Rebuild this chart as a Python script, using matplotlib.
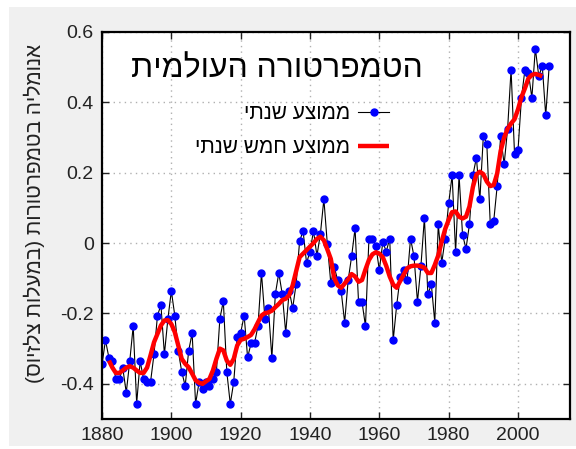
import matplotlib
matplotlib.use("Agg")
import matplotlib.pyplot as plt
from matplotlib.patches import Rectangle

plt.rcParams['font.family'] = ['Liberation Sans', 'DejaVu Sans']

# annual mean anomaly, 1880-2009 (deg C)
years = list(range(1880, 2010))
annual = [
    -0.345, -0.276, -0.326, -0.336, -0.386, -0.386, -0.356, -0.425, -0.336, -0.236,
    -0.456, -0.336, -0.386, -0.395, -0.395, -0.316, -0.206, -0.176, -0.316, -0.216,
    -0.136, -0.206, -0.306, -0.366, -0.406, -0.306, -0.256, -0.457, -0.395, -0.415,
    -0.395, -0.405, -0.386, -0.366, -0.215, -0.165, -0.366, -0.457, -0.395, -0.266,
    -0.255, -0.206, -0.325, -0.285, -0.285, -0.235, -0.085, -0.215, -0.185, -0.326,
    -0.145, -0.085, -0.145, -0.255, -0.135, -0.185, -0.116, 0.005, 0.035, -0.056,
    -0.025, 0.035, -0.036, 0.026, 0.125, -0.003, -0.114, -0.068, -0.106, -0.137,
    -0.226, -0.106, -0.038, 0.042, -0.167, -0.167, -0.236, 0.013, 0.013, -0.008,
    -0.077, 0.003, -0.024, 0.013, -0.276, -0.177, -0.097, -0.077, -0.106, 0.013,
    -0.038, -0.167, -0.065, 0.072, -0.146, -0.117, -0.226, 0.053, -0.056, 0.013,
    0.113, 0.193, -0.026, 0.193, 0.024, -0.016, 0.054, 0.193, 0.243, 0.124,
    0.304, 0.283, 0.054, 0.063, 0.163, 0.304, 0.224, 0.324, 0.493, 0.253,
    0.264, 0.413, 0.493, 0.484, 0.413, 0.553, 0.474, 0.504, 0.363, 0.504,
]

# five-year mean, 1882-2007
years5 = list(range(1882, 2008))
mean5 = [
    -0.334, -0.354, -0.369, -0.369, -0.362, -0.354, -0.350, -0.354,
    -0.362, -0.369, -0.369, -0.354, -0.319, -0.282, -0.258, -0.234, -0.220, -0.219,
    -0.230, -0.253, -0.291, -0.329, -0.343, -0.353, -0.371, -0.390, -0.397, -0.400,
    -0.393, -0.386, -0.362, -0.329, -0.300, -0.305, -0.334, -0.346, -0.329, -0.291,
    -0.275, -0.272, -0.267, -0.261, -0.245, -0.225, -0.206, -0.199, -0.197, -0.192,
    -0.182, -0.173, -0.162, -0.158, -0.148, -0.120, -0.080, -0.040, -0.030, -0.020,
    -0.010, 0.000, 0.012, 0.018, 0.008, -0.018, -0.045, -0.100, -0.120, -0.127,
    -0.115, -0.103, -0.088, -0.095, -0.110, -0.105, -0.075, -0.048, -0.032, -0.026,
    -0.030, -0.040, -0.065, -0.095, -0.118, -0.127, -0.108, -0.090, -0.072, -0.066,
    -0.064, -0.064, -0.066, -0.070, -0.085, -0.085, -0.062, -0.035, 0.005, 0.040,
    0.066, 0.088, 0.090, 0.075, 0.070, 0.075, 0.104, 0.160, 0.195, 0.203,
    0.196, 0.175, 0.162, 0.165, 0.198, 0.262, 0.300, 0.325, 0.340, 0.352,
    0.380, 0.415, 0.440, 0.468, 0.478, 0.481, 0.478, 0.474,
]

title = "הטמפרטורה העולמית"
ylabel = "אנומליה בטמפרטורות (במעלות צלזיוס)"
label_annual = "ממוצע שנתי"
label_mean5 = "ממוצע חמש שנתי"


def rtl(s):
    # no bidi support in matplotlib: lay the string out right-to-left by hand
    swap = {"(": ")", ")": "("}
    return "".join(swap.get(c, c) for c in reversed(s))


fig = plt.figure(figsize=(5.76, 4.49), dpi=100, facecolor='white')
fig.add_artist(Rectangle((9 / 576, 3 / 449), 1, (449 - 10) / 449,
                         transform=fig.transFigure, facecolor='#f0f0f0',
                         edgecolor='none', zorder=-10))
ax = fig.add_axes([102 / 576, 30 / 449, 468 / 576, 387 / 449])

ax.plot(years, annual, color='black', lw=0.8, marker='o', markersize=5,
        markerfacecolor='blue', markeredgecolor='blue', label=rtl(label_annual))
ax.plot(years5, mean5, color='red', lw=3.2, label=rtl(label_mean5),
        solid_capstyle='butt')

ax.set_xlim(1880, 2015)
ax.set_ylim(-0.5, 0.6)
ax.set_xticks(range(1880, 2001, 20))
ax.set_yticks([-0.4, -0.2, 0, 0.2, 0.4, 0.6])
ax.set_yticklabels(['-0.4', '-0.2', '0', '0.2', '0.4', '0.6'])
ax.tick_params(direction='in', top=True, right=True, length=5, width=1,
               labelsize=14, colors='#222222', pad=6)
for s in ax.spines.values():
    s.set_linewidth(1.6)
ax.grid(True, linestyle=(0, (1, 3)), color='#b0b0b0', lw=1)

fig.text(34 / 576, 1 - 213 / 449, rtl(ylabel), rotation=90, fontsize=15,
         ha='center', va='center', color='#222222')
ax.text(0.373, 0.905, rtl(title), transform=ax.transAxes, fontsize=23,
        ha='center', va='center')

ax.legend(loc='upper right', bbox_to_anchor=(0.614, 0.813), frameon=False,
          markerfirst=False, fontsize=15, handlelength=1.5, labelspacing=0.7,
          handletextpad=0.4, borderaxespad=0, borderpad=0)

fig.savefig('out.png', dpi=100, facecolor=fig.get_facecolor())
